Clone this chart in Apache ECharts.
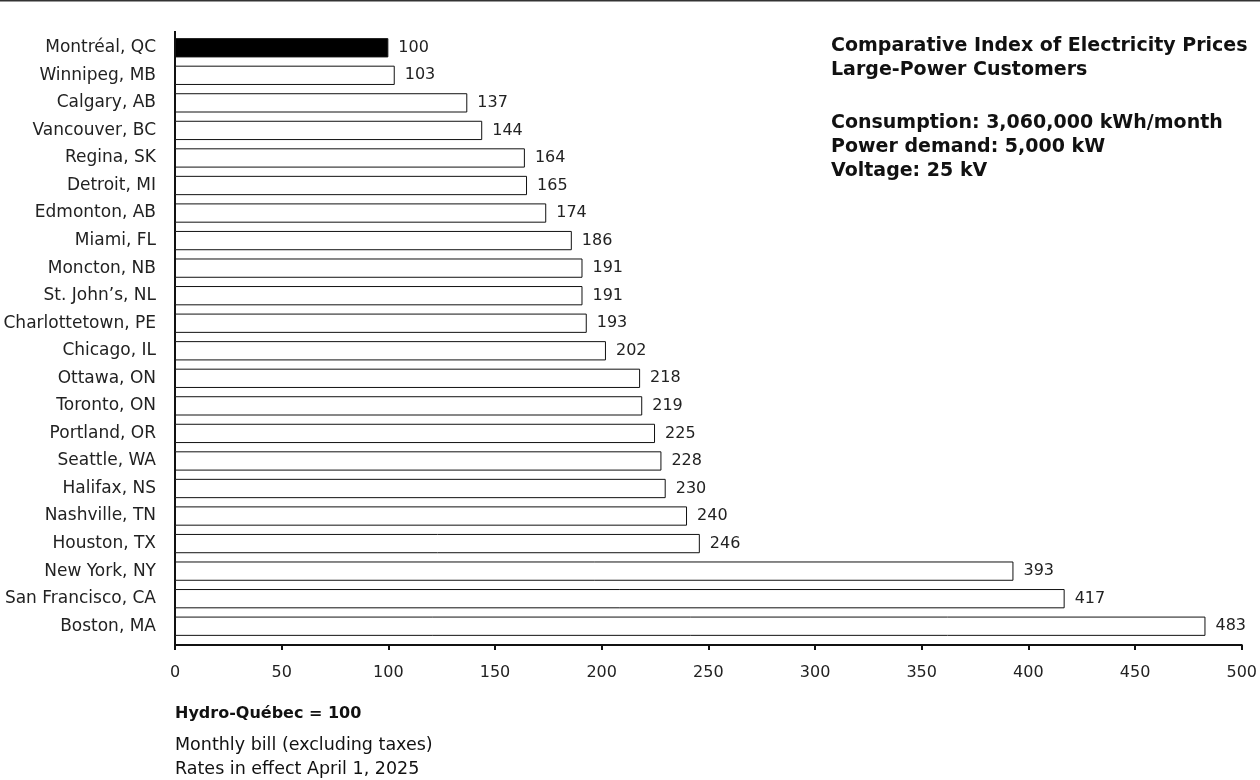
<!DOCTYPE html>
<html><head><meta charset="utf-8">
<script src="https://cdn.jsdelivr.net/npm/echarts@6/dist/echarts.min.js"></script>
<style>html,body{margin:0;padding:0;background:#fff}#c{width:1260px;height:780px}</style>
</head><body><div id="c"></div>
<script>
const cities = ["Montréal, QC","Winnipeg, MB","Calgary, AB","Vancouver, BC","Regina, SK","Detroit, MI","Edmonton, AB","Miami, FL","Moncton, NB","St. John’s, NL","Charlottetown, PE","Chicago, IL","Ottawa, ON","Toronto, ON","Portland, OR","Seattle, WA","Halifax, NS","Nashville, TN","Houston, TX","New York, NY","San Francisco, CA","Boston, MA"];
const indexValues = [100,103,137,144,164,165,174,186,191,191,193,202,218,219,225,228,230,240,246,393,417,483];
const highlightCity = "Montréal, QC";
const titleLines = ["Comparative Index of Electricity Prices","Large-Power Customers"];
const specLines = ["Consumption: 3,060,000 kWh/month","Power demand: 5,000 kW","Voltage: 25 kV"];
const noteBold = "Hydro-Québec = 100";
const noteLines = ["Monthly bill (excluding taxes)","Rates in effect April 1, 2025"];

const FONT = "'DejaVu Sans', sans-serif";
const GL = 175, GT = 34, GH = 606, GR = 17;
const chart = echarts.init(document.getElementById('c'));
const txt = (x, y, text, bold, size) => ({type:'text', left:x, top:y, style:{text, fill:'#111', font:(bold?'bold ':'normal ')+size+'px '+FONT}});
const graphics = [
  {type:'rect', shape:{x:0,y:0,width:1260,height:1.5}, style:{fill:'#333'}},
  {type:'line', shape:{x1:GL,y1:31,x2:GL,y2:GT+GH+6}, style:{stroke:'#111', lineWidth:2}}
];
titleLines.forEach((t,i)=>graphics.push(txt(831, 37+i*24, t, true, 19)));
specLines.forEach((t,i)=>graphics.push(txt(831, 114+i*24, t, true, 19)));
graphics.push(txt(175, 706, noteBold, true, 16));
noteLines.forEach((t,i)=>graphics.push(txt(175, 736+i*24.5, t, false, 17.5)));

chart.setOption({
  animation:false,
  textStyle:{fontFamily:FONT},
  grid:{left:GL, top:GT, height:GH, right:GR},
  xAxis:{type:'value', min:0, max:500, interval:50, offset:5,
    axisLine:{show:true, lineStyle:{color:'#111', width:2}},
    axisTick:{show:true, length:5, lineStyle:{color:'#111', width:2}},
    axisLabel:{color:'#222', fontSize:16, margin:20, fontFamily:FONT},
    splitLine:{show:false}},
  yAxis:{type:'category', inverse:true, data:cities,
    axisLine:{show:false}, axisTick:{show:false},
    axisLabel:{color:'#222', fontSize:17, margin:19, fontFamily:FONT}},
  series:[{type:'bar', barCategoryGap:'30%',
    data: indexValues.map((v,i)=>({value:v, itemStyle:{color: cities[i]===highlightCity?'#000':'#fff'}})),
    itemStyle:{borderColor:'#111', borderWidth:1},
    label:{show:true, position:'right', distance:10, color:'#222', fontSize:16, fontFamily:FONT}
  }],
  graphic:graphics
});
</script></body></html>
